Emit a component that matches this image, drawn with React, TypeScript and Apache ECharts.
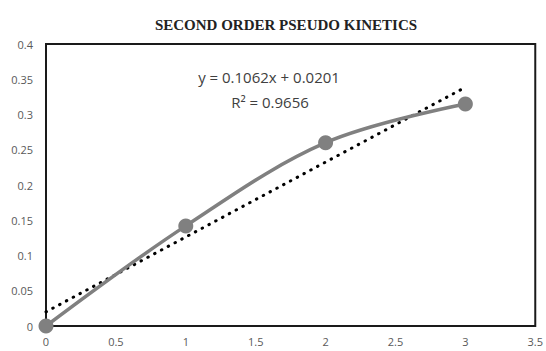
import React, { useEffect, useRef } from "react";
import * as echarts from "echarts";

const xValues = [0, 1, 2, 3];
const yValues = [0, 0.142, 0.26, 0.315];
const trendX = [0, 3];
const trendY = [0.0201, 0.3387];
const xTicks = [0, 0.5, 1, 1.5, 2, 2.5, 3, 3.5];
const yTicks = [0, 0.05, 0.1, 0.15, 0.2, 0.25, 0.3, 0.35, 0.4];
const titleText = "SECOND ORDER PSEUDO KINETICS";
const equationText = "y = 0.1062x + 0.0201";
const r2Text = "R² = 0.9656";

export default function App() {
  const ref = useRef<HTMLDivElement>(null);
  useEffect(() => {
    if (!ref.current) return;
    const chart = echarts.init(ref.current, null, { renderer: "svg" });
    const labelFont = { color: "#595959", fontSize: 11, fontFamily: "Open Sans" };
    chart.setOption({
      animation: false,
      backgroundColor: "#fff",
      title: {
        text: titleText,
        left: 281,
        top: 12,
        textAlign: "center",
        textStyle: {
          fontFamily: "Liberation Serif",
          fontWeight: "bold",
          fontSize: 15,
          color: "#222",
        },
      },
      grid: {
        left: 46,
        right: 9,
        top: 44,
        bottom: 25,
        show: true,
        borderColor: "#1a1a1a",
        borderWidth: 2,
      },
      xAxis: {
        type: "value",
        min: 0,
        max: 3.5,
        interval: 0.5,
        axisLine: { show: false },
        axisTick: { show: false },
        splitLine: { show: false },
        axisLabel: {
          ...labelFont,
          margin: 10,
          formatter: (v: number) => (xTicks.includes(v) ? String(v) : ""),
        },
      },
      yAxis: {
        type: "value",
        min: 0,
        max: 0.4,
        interval: 0.05,
        axisLine: { show: false },
        axisTick: { show: false },
        splitLine: { show: false },
        axisLabel: {
          ...labelFont,
          margin: 13,
          formatter: (v: number) => {
            const t = yTicks.find((y) => Math.abs(y - v) < 1e-9);
            return t === undefined ? "" : String(t);
          },
        },
      },
      series: [
        {
          type: "line",
          data: trendX.map((x, i) => [x, trendY[i]]),
          symbol: "none",
          lineStyle: { color: "#000", width: 3, type: [0.5, 7.2], cap: "round" },
          z: 2,
        },
        {
          type: "line",
          data: xValues.map((x, i) => [x, yValues[i]]),
          smooth: 0.35,
          symbol: "circle",
          symbolSize: 15,
          itemStyle: { color: "#808080" },
          lineStyle: { color: "#808080", width: 3.5 },
          z: 3,
        },
      ],
      graphic: [
        {
          type: "text",
          x: 269,
          y: 77,
          style: {
            text: equationText,
            fill: "#404040",
            fontSize: 15,
            fontFamily: "Open Sans",
            align: "center",
            verticalAlign: "middle",
          },
        },
        {
          type: "text",
          x: 270,
          y: 102,
          style: {
            text: r2Text,
            fill: "#404040",
            fontSize: 15,
            fontFamily: "Open Sans",
            align: "center",
            verticalAlign: "middle",
          },
        },
      ],
    });
    return () => chart.dispose();
  }, []);
  return (
    <div
      ref={ref}
      style={{ position: "fixed", left: 0, top: 0, width: 546, height: 351 }}
    />
  );
}
